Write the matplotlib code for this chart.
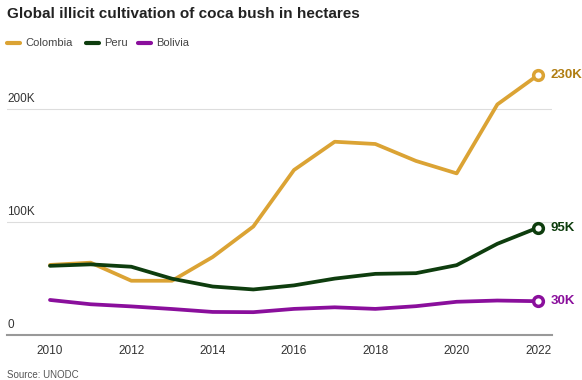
import matplotlib.pyplot as plt

# Data (UNODC, hectares)
years = list(range(2010, 2023))
colombia = [62000, 64000, 48000, 48000, 69000, 96000, 146000, 171000, 169000, 154000, 143000, 204000, 230000]
peru = [61200, 62500, 60400, 49800, 42900, 40300, 43900, 49900, 54100, 54700, 61800, 80700, 95000]
bolivia = [31000, 27200, 25300, 23000, 20400, 20200, 23100, 24500, 23100, 25500, 29400, 30500, 29900]
end_labels = ["230K", "95K", "30K"]
names = ["Colombia", "Peru", "Bolivia"]
y_ticks = [0, 100000, 200000]
y_tick_labels = ["0", "100K", "200K"]
x_ticks = [2010, 2012, 2014, 2016, 2018, 2020, 2022]

colors = ["#dba334", "#0e3d0e", "#8a0f9c"]
label_colors = ["#b07d12", "#0e3d0e", "#8a0f9c"]

plt.rcParams['font.family'] = ['Liberation Sans', 'DejaVu Sans']

W, H = 582, 380
fig = plt.figure(figsize=(W / 100, H / 100), dpi=100)
ax = fig.add_axes([7 / W, 1 - 335 / H, (552 - 7) / W, (335 - 52) / H])

series = [colombia, peru, bolivia]
for vals, col, lab_col, lab in zip(series, colors, label_colors, end_labels):
    ax.plot(years, vals, color=col, lw=2.7, solid_capstyle='round', zorder=3)
    ax.plot(years[-1], vals[-1], 'o', ms=7, mfc='white', mec=col, mew=2.5, zorder=4)
    ax.annotate(lab, (years[-1], vals[-1]), xytext=(9, 0), textcoords='offset points',
                color=lab_col, fontsize=9.5, fontweight='bold', va='center', ha='left',
                annotation_clip=False)

ax.set_xlim(2010 - 43 / 40.67, 2022 + 14 / 40.67)
ax.set_ylim(0, 250400)

# light gridlines with labels sitting above them
for t in y_ticks[1:]:
    ax.axhline(t, color='#dddddd', lw=0.8, zorder=1)
for t, lab in zip(y_ticks, y_tick_labels):
    ax.annotate(lab, (0, t), xycoords=('axes fraction', 'data'), xytext=(0, 3),
                textcoords='offset points', fontsize=8.5, color='#333333',
                ha='left', va='bottom')

for s in ['top', 'right', 'left']:
    ax.spines[s].set_visible(False)
ax.spines['bottom'].set_color('#999999')
ax.spines['bottom'].set_linewidth(1.5)
ax.set_yticks([])
ax.set_xticks(x_ticks)
ax.set_xticklabels([str(x) for x in x_ticks])
ax.tick_params(axis='x', length=0, pad=7, labelsize=8.5, labelcolor='#333333')

# Title, legend, source
fig.text(7 / W, 1 - 14 / H, "Global illicit cultivation of coca bush in hectares",
         fontsize=11, fontweight='bold', color='#222222', ha='left', va='center')

leg_x = 7
for name, col in zip(names, colors):
    x0 = leg_x / W
    fig.add_artist(plt.Line2D([x0, x0 + 13 / W], [1 - 43 / H] * 2, color=col, lw=3,
                              solid_capstyle='round'))
    fig.text(x0 + 18 / W, 1 - 43 / H, name, fontsize=8, color='#444444',
             ha='left', va='center')
    leg_x += {"Colombia": 79, "Peru": 52, "Bolivia": 60}[name]

fig.text(7 / W, 1 - 375 / H, "Source: UNODC", fontsize=7, color='#555555',
         ha='left', va='center')

fig.savefig("out.png", dpi=100)
